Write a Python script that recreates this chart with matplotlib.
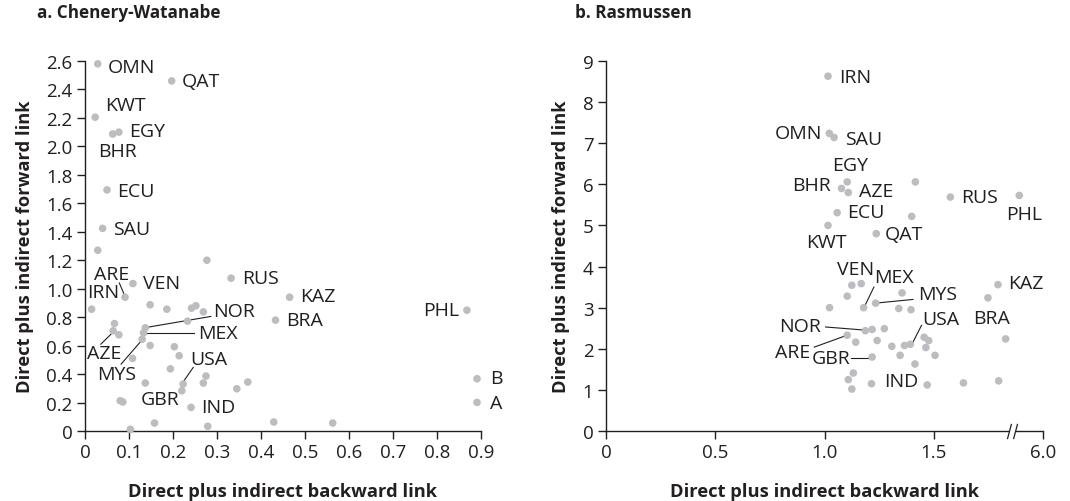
import numpy as np
import matplotlib
matplotlib.use("Agg")
import matplotlib.pyplot as plt
from matplotlib.path import Path

plt.rcParams["font.family"] = ["Open Sans", "DejaVu Sans"]

INK = "#231f20"
DOT = "#bdbdc1"

# ---------------- a. Chenery-Watanabe ----------------
cw_names = ["OMN", "QAT", "KWT", "EGY", "BHR", "ECU", "SAU", "ARE", "IRN", "VEN",
            "RUS", "KAZ", "NOR", "MEX", "MYS", "BRA", "PHL", "AZE", "USA", "GBR",
            "IND", "B", "A"]
cw_back = [0.029, 0.197, 0.023, 0.077, 0.063, 0.050, 0.040, 0.091, 0.015, 0.109,
           0.332, 0.465, 0.137, 0.133, 0.130, 0.433, 0.868, 0.064, 0.223, 0.220,
           0.241, 0.891, 0.891]
cw_fwd = [2.58, 2.46, 2.205, 2.10, 2.087, 1.694, 1.424, 0.94, 0.856, 1.036,
          1.074, 0.94, 0.725, 0.69, 0.645, 0.779, 0.849, 0.704, 0.33, 0.283,
          0.166, 0.367, 0.201]
cw_other_back = [0.029, 0.277, 0.148, 0.186, 0.242, 0.252, 0.269, 0.233, 0.067, 0.077,
                 0.148, 0.203, 0.214, 0.108, 0.194, 0.275, 0.269, 0.137, 0.370, 0.345,
                 0.080, 0.086, 0.158, 0.103, 0.279, 0.429, 0.563]
cw_other_fwd = [1.27, 1.20, 0.887, 0.856, 0.863, 0.88, 0.837, 0.772, 0.755, 0.676,
                0.601, 0.592, 0.529, 0.51, 0.437, 0.386, 0.337, 0.337, 0.344, 0.297,
                0.213, 0.204, 0.056, 0.012, 0.033, 0.063, 0.056]

# label placement: (text x, text y, horizontal alignment, leader line?)
cw_text = {
    "OMN": (0.052, 2.56, "left", False), "QAT": (0.220, 2.46, "left", False),
    "KWT": (0.045, 2.29, "left", False), "EGY": (0.100, 2.105, "left", False),
    "BHR": (0.030, 1.97, "left", False), "ECU": (0.073, 1.69, "left", False),
    "SAU": (0.064, 1.42, "left", False), "ARE": (0.020, 1.10, "left", True),
    "IRN": (0.005, 0.978, "left", False), "VEN": (0.131, 1.04, "left", False),
    "RUS": (0.356, 1.078, "left", False), "KAZ": (0.489, 0.95, "left", False),
    "NOR": (0.292, 0.845, "left", True), "MEX": (0.256, 0.69, "left", True),
    "MYS": (0.027, 0.40, "left", True), "BRA": (0.457, 0.78, "left", False),
    "PHL": (0.851, 0.85, "right", False), "AZE": (0.005, 0.547, "left", True),
    "USA": (0.239, 0.505, "left", True), "GBR": (0.127, 0.225, "left", False),
    "IND": (0.264, 0.166, "left", False), "B": (0.921, 0.37, "left", False),
    "A": (0.921, 0.20, "left", False),
}
cw_leaders = {
    "ARE": ((0.078, 1.04), (0.089, 0.96)),
    "NOR": ((0.286, 0.805), (0.140, 0.728)),
    "MEX": ((0.248, 0.688), (0.140, 0.688)),
    "AZE": ((0.036, 0.61), (0.059, 0.680)),
    "MYS": ((0.082, 0.47), (0.127, 0.630)),
    "USA": ((0.246, 0.447), (0.225, 0.353)),
}
cw_yticks = [0, 0.2, 0.4, 0.6, 0.8, 1.0, 1.2, 1.4, 1.6, 1.8, 2.0, 2.2, 2.4, 2.6]
cw_xticks = [0, 0.1, 0.2, 0.3, 0.4, 0.5, 0.6, 0.7, 0.8, 0.9]

# ---------------- b. Rasmussen ----------------
ra_names = ["IRN", "OMN", "SAU", "EGY", "BHR", "AZE", "RUS", "PHL", "ECU", "KWT",
            "QAT", "VEN", "MEX", "MYS", "KAZ", "BRA", "NOR", "ARE", "USA", "GBR", "IND"]
ra_back = [1.016, 1.022, 1.044, 1.104, 1.078, 1.109, 1.576, 5.60, 1.058, 1.016,
           1.237, 1.125, 1.179, 1.234, 1.794, 1.748, 1.187, 1.104, 1.393, 1.218, 1.215]
ra_fwd = [8.63, 7.24, 7.14, 6.06, 5.90, 5.80, 5.69, 5.73, 5.31, 5.00,
          4.80, 3.545, 3.00, 3.11, 3.56, 3.24, 2.44, 2.33, 2.11, 1.80, 1.15]
ra_other_back = [1.416, 1.399, 1.829, 1.797, 1.636, 1.168, 1.104, 1.023, 1.355, 1.340,
                 1.396, 1.218, 1.274, 1.143, 1.241, 1.308, 1.366, 1.456, 1.477, 1.464,
                 1.346, 1.506, 1.414, 1.132, 1.109, 1.125, 1.470]
ra_other_fwd = [6.06, 5.22, 2.24, 1.22, 1.17, 3.585, 3.28, 3.00, 3.36, 2.98,
                2.95, 2.47, 2.49, 2.16, 2.20, 2.06, 2.08, 2.28, 2.20, 2.03,
                1.84, 1.84, 1.63, 1.41, 1.25, 1.02, 1.12]

ra_text = {
    "IRN": (1.065, 8.60, "left", False), "OMN": (0.988, 7.24, "right", False),
    "SAU": (1.093, 7.11, "left", False), "EGY": (1.036, 6.47, "left", False),
    "BHR": (1.028, 5.98, "right", False), "AZE": (1.156, 5.84, "left", False),
    "RUS": (1.623, 5.69, "left", False), "PHL": (1.833, 5.27, "left", False),
    "ECU": (1.104, 5.33, "left", False), "KWT": (0.914, 4.60, "left", False),
    "QAT": (1.277, 4.78, "left", False), "VEN": (1.059, 3.95, "left", False),
    "MEX": (1.226, 3.75, "left", True), "MYS": (1.428, 3.33, "left", True),
    "KAZ": (1.841, 3.59, "left", False), "BRA": (1.682, 2.75, "left", False),
    "NOR": (0.984, 2.55, "right", True), "ARE": (0.935, 1.92, "right", True),
    "USA": (1.447, 2.72, "left", True), "GBR": (1.117, 1.77, "right", True),
    "IND": (1.273, 1.22, "left", False),
}
ra_leaders = {
    "MEX": ((1.226, 3.50), (1.187, 3.07)),
    "MYS": ((1.405, 3.20), (1.252, 3.12)),
    "NOR": ((1.005, 2.53), (1.171, 2.46)),
    "ARE": ((0.953, 2.04), (1.093, 2.31)),
    "GBR": ((1.121, 1.78), (1.205, 1.78)),
    "USA": ((1.444, 2.57), (1.405, 2.16)),
}
ra_yticks = [0, 1, 2, 3, 4, 5, 6, 7, 8, 9]
ra_xticks = [0, 0.5, 1.0, 1.5, 6.0]

# Broken x scale for panel b: linear up to the break, then 5.5-6.0 squeezed in
BREAK_LO, BREAK_HI = 1.857, 5.5
GAP = 0.002
TOP_SLOPE = (2.0 - (BREAK_LO + (BREAK_HI - BREAK_LO) * GAP)) / (6.0 - BREAK_HI)
MID_END = BREAK_LO + (BREAK_HI - BREAK_LO) * GAP


def fwd(x):
    x = np.asarray(x, dtype=float)
    return np.where(x <= BREAK_LO, x,
                    np.where(x <= BREAK_HI, BREAK_LO + (x - BREAK_LO) * GAP,
                             MID_END + (x - BREAK_HI) * TOP_SLOPE))


def inv(u):
    u = np.asarray(u, dtype=float)
    return np.where(u <= BREAK_LO, u,
                    np.where(u <= MID_END, BREAK_LO + (u - BREAK_LO) / GAP,
                             BREAK_HI + (u - MID_END) / TOP_SLOPE))


fig = plt.figure(figsize=(10.70, 5.02), dpi=100)
ax1 = fig.add_axes([85 / 1070, 1 - 432 / 502, (481 - 85) / 1070, (432 - 62) / 502])
ax2 = fig.add_axes([606 / 1070, 1 - 432 / 502, (1043 - 606) / 1070, (432 - 62) / 502])
ax2.set_xscale("function", functions=(fwd, inv))

LABEL_FS = 14
TICK_FS = 13.5


def style(ax, xticks, yticks, xlim, ylim, xfmt, yfmt):
    for s in ("top", "right"):
        ax.spines[s].set_visible(False)
    for s in ("left", "bottom"):
        ax.spines[s].set_linewidth(1.0)
        ax.spines[s].set_color(INK)
    ax.set_xlim(*xlim)
    ax.set_ylim(*ylim)
    ax.set_xticks(xticks)
    ax.set_yticks(yticks)
    ax.set_xticklabels([xfmt(v) for v in xticks])
    ax.set_yticklabels([yfmt(v) for v in yticks])
    ax.tick_params(direction="out", length=6, width=1.0, color=INK,
                   labelsize=TICK_FS, labelcolor=INK, pad=3)
    ax.set_xlabel("Direct plus indirect backward link", fontsize=13.2,
                  fontweight="bold", color=INK, labelpad=15)
    ax.set_ylabel("Direct plus indirect forward link", fontsize=13.2,
                  fontweight="bold", color=INK, labelpad=9)


def draw(ax, names, xs, ys, oxs, oys, texts, leaders):
    ax.scatter(oxs, oys, s=30, color=DOT, edgecolors="none", zorder=3, clip_on=False)
    ax.scatter(xs, ys, s=30, color=DOT, edgecolors="none", zorder=3, clip_on=False)
    for n in names:
        tx, ty, ha, _ = texts[n]
        ax.text(tx, ty, n, ha=ha, va="center", fontsize=LABEL_FS, color=INK,
                clip_on=False, zorder=4)
    for n, ((x0, y0), (x1, y1)) in leaders.items():
        ax.plot([x0, x1], [y0, y1], color=INK, lw=0.8, zorder=2, clip_on=False)


style(ax1, cw_xticks, cw_yticks, (0, 0.9), (0, 2.6),
      lambda v: "0" if v == 0 else f"{v:.1f}",
      lambda v: "0" if v == 0 else f"{v:.1f}")
draw(ax1, cw_names, cw_back, cw_fwd, cw_other_back, cw_other_fwd, cw_text, cw_leaders)

style(ax2, ra_xticks, ra_yticks, (0, 6.0), (0, 9),
      lambda v: "0" if v == 0 else f"{v:.1f}",
      lambda v: f"{v:d}")
draw(ax2, ra_names, ra_back, ra_fwd, ra_other_back, ra_other_fwd, ra_text, ra_leaders)

# axis break mark on panel b
xt = ax2.get_xaxis_transform()
ax2.plot([BREAK_LO], [0], marker="s", ms=4.5, color="white", mec="none",
         transform=xt, clip_on=False, zorder=5)
slashes = Path([(-5, -7.5), (-1, 7.5), (1, -7.5), (5, 7.5)],
               [Path.MOVETO, Path.LINETO, Path.MOVETO, Path.LINETO])
ax2.plot([BREAK_LO], [0], marker=slashes, ms=11, mfc="none", mec=INK, mew=0.9,
         transform=xt, clip_on=False, zorder=6)

fig.text(37 / 1070, 1 - 13 / 502, "a. Chenery-Watanabe", fontsize=12.3,
         fontweight="bold", color=INK, va="center", ha="left")
fig.text(575 / 1070, 1 - 13 / 502, "b. Rasmussen", fontsize=12.3,
         fontweight="bold", color=INK, va="center", ha="left")

fig.savefig("out.png", dpi=100, facecolor="white")
